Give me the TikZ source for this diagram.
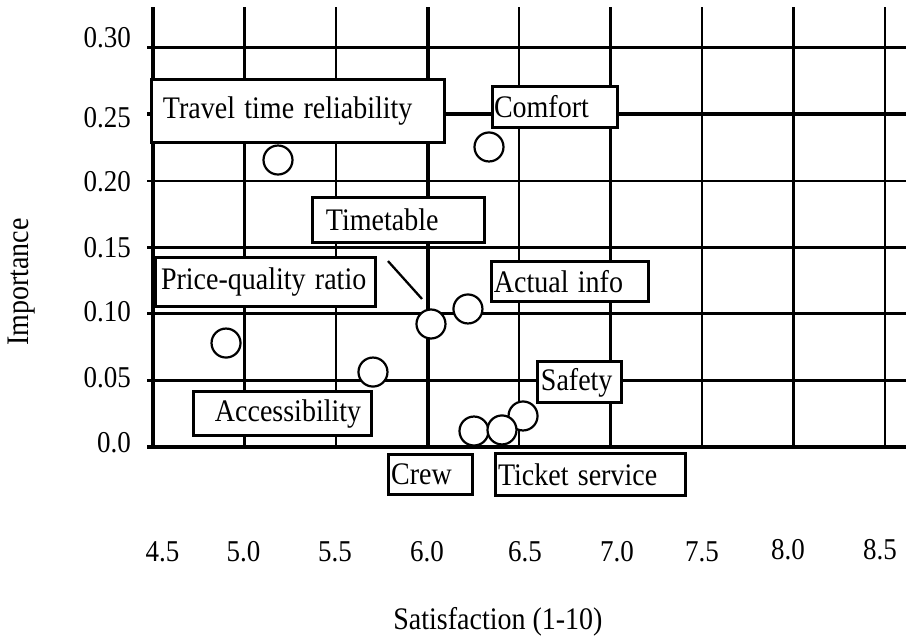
\documentclass[tikz,border=0pt]{standalone}
\usepackage{graphicx}
\usepackage{fontspec}
\setmainfont{Liberation Serif}
\newcommand\tall[1]{\scalebox{1}[1.12]{#1}}

\begin{document}
\begin{tikzpicture}[x=183pt,y=1331pt,
  lbl/.style={draw, fill=white, line width=3pt, inner sep=0pt, align=left,
    font=\fontsize{28}{33}\selectfont},
  dot/.style={circle, draw, fill=white, line width=2.2pt, minimum size=29pt, inner sep=0pt},
  tick/.style={inner sep=0pt, font=\fontsize{27}{32}\selectfont}]
\useasboundingbox (3.66393,-0.143501) rectangle (8.61475,0.335838);

% grid
\foreach \s/\w in {4.5/3.3, 5.0/2.7, 5.5/2.7, 6.0/4, 6.5/2.3, 7.0/2.3, 7.5/2.3, 8.0/2.3, 8.5/2.3}
  \draw [line width=\w pt] (\s,0) -- (\s,0.3306);
\foreach \v/\w in {0.0/3.3, 0.05/2.7, 0.10/3, 0.15/3, 0.20/2.3, 0.25/4, 0.30/2.7}
  \draw [line width=\w pt] (4.4672,\v) -- (8.61475,\v);

% axis labels
\foreach \t/\v [count=\i] in {0.30/0.3073, 0.25/0.2472, 0.20/0.1991, 0.15/0.1495, 0.10/0.1014, 0.05/0.0518, 0.0/0.0030}
  \node (ytick-\i) [tick, anchor=east] at (4.3798,\v) {\tall{\t}};
\foreach \t/\s/\v [count=\i] in {4.5/4.552/-0.0789, 5.0/4.995/-0.0789, 5.5/5.495/-0.0789,
    6.0/5.997/-0.0789, 6.5/6.533/-0.0789, 7.0/7.036/-0.0789, 7.5/7.500/-0.0789,
    8.0/7.970/-0.0774, 8.5/8.473/-0.0774}
  \node (xtick-\i) [tick] at (\s,\v) {\tall{\t}};
\node (xtitle) [tick, font=\fontsize{28}{33}\selectfont] at (6.385,-0.1315) {\tall{Satisfaction (1-10)}};
\node (ytitle) [tick, font=\fontsize{28}{33}\selectfont, rotate=90] at (3.784,0.1240) {\tall{Importance}};

% leader for timetable
\coordinate (tt-a) at (5.784,0.1397);
\coordinate (tt-b) at (5.970,0.1112);
\draw [line width=2.3pt] (tt-a) -- (tt-b);

% points
\node (p-travel) [dot] at (5.183,0.2156) {};
\node (p-comfort) [dot] at (6.336,0.2254) {};
\node (p-actual) [dot] at (6.221,0.1037) {};
\node (p-timetable) [dot] at (6.019,0.0924) {};
\node (p-price) [dot] at (4.899,0.0781) {};
\node (p-access) [dot] at (5.702,0.0563) {};
\node (p-crew) [dot] at (6.254,0.0120) {};
\node (p-safety) [dot] at (6.522,0.0233) {};
\node (p-ticket) [dot] at (6.407,0.0128) {};

% labels
\node (travel) [lbl, text width=293pt, minimum height=63pt] at (5.295,0.2521) {\hspace*{11pt}\tall{Travel time reliability}};
\node (comfort) [lbl, text width=125pt, minimum height=41pt] at (6.694,0.2558) {\hspace*{2pt}\tall{Comfort}};
\node (timetable) [lbl, text width=172pt, minimum height=45pt] at (5.844,0.1709) {\hspace*{13pt}\tall{Timetable}};
\node (price) [lbl, text width=220pt, minimum height=49pt] at (5.112,0.1243) {\hspace*{6pt}\tall{Price-quality ratio}};
\node (actual) [lbl, text width=157pt, minimum height=40pt] at (6.781,0.1240) {\hspace*{2pt}\tall{Actual info}};
\node (access) [lbl, text width=178pt, minimum height=44pt] at (5.210,0.0248) {\hspace*{21pt}\tall{Accessibility}};
\node (crew) [lbl, text width=84pt, minimum height=40pt] at (6.014,-0.0203) {\hspace*{3pt}\tall{Crew}};
\node (ticket) [lbl, text width=190pt, minimum height=42pt] at (6.888,-0.0210) {\hspace*{3pt}\tall{Ticket service}};
\node (safety) [lbl, text width=84pt, minimum height=41pt] at (6.833,0.0485) {\hspace*{3pt}\tall{Safety}};
\end{tikzpicture}
\end{document}
